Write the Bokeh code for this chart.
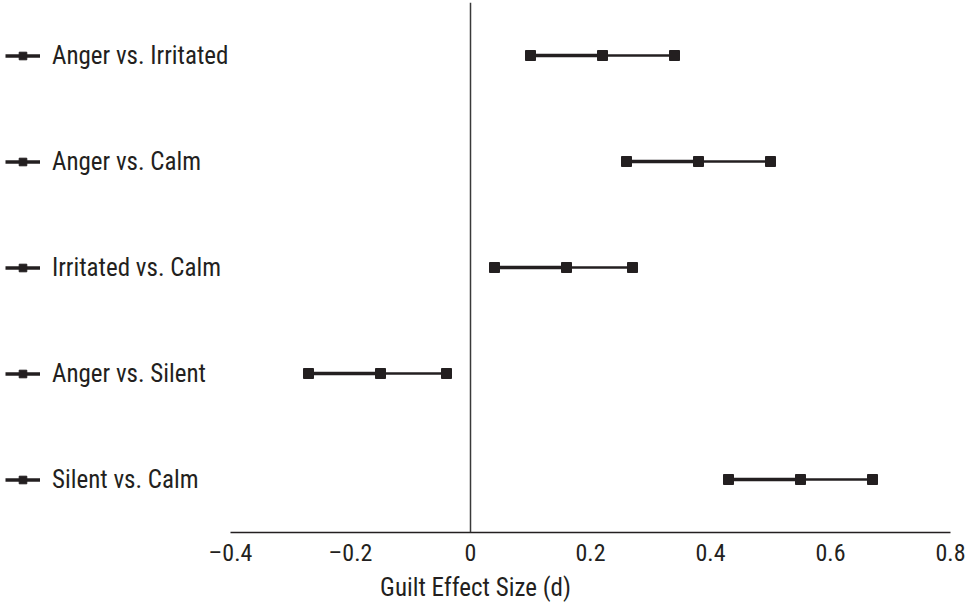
from bokeh.plotting import figure
from bokeh.models import ColumnDataSource, Span, FixedTicker, Legend, LegendItem, Range1d, FactorRange
from bokeh.embed import file_html
from bokeh.resources import INLINE

# ---- data ----
comparisons = ["Anger vs. Irritated", "Anger vs. Calm", "Irritated vs. Calm",
               "Anger vs. Silent", "Silent vs. Calm"]
effect = [0.22, 0.38, 0.16, -0.15, 0.55]
ci_low = [0.10, 0.26, 0.04, -0.27, 0.43]
ci_high = [0.34, 0.50, 0.27, -0.04, 0.67]
x_ticks = [-0.4, -0.2, 0, 0.2, 0.4, 0.6, 0.8]
x_tick_labels = ["\u20130.4", "\u20130.2", "0", "0.2", "0.4", "0.6", "0.8"]
x_title = "Guilt Effect Size (d)"

INK = "#231f20"
FONT = "Roboto Condensed"

# ---- layout (pixels) ----
FRAME_W = 950          # frame spans label column + data area
DATA_W = 720           # pixels from first to last x tick
FRAME_H = 530
LABEL_COL = FRAME_W - DATA_W
px_per_unit = DATA_W / (x_ticks[-1] - x_ticks[0])
x_start = x_ticks[0] - LABEL_COL / px_per_unit
x_end = x_ticks[-1]

src = ColumnDataSource(dict(y=comparisons, d=effect, lo=ci_low, hi=ci_high))

p = figure(frame_width=FRAME_W, frame_height=FRAME_H, output_backend="svg", toolbar_location=None,
           x_range=Range1d(x_start, x_end),
           y_range=FactorRange(factors=comparisons[::-1], range_padding=0),
           min_border_left=0, min_border_right=15, min_border_top=2, min_border_bottom=10)
p.outline_line_color = None
p.xgrid.visible = False
p.ygrid.visible = False
p.yaxis.visible = False

seg_lo = p.segment(x0="lo", y0="y", x1="d", y1="y", source=src, line_color=INK, line_width=3.5)
seg_hi = p.segment(x0="d", y0="y", x1="hi", y1="y", source=src, line_color=INK, line_width=2.6)
s_lo = p.scatter(x="lo", y="y", source=src, marker="square", size=10, fill_color=INK, line_color=INK)
s_hi = p.scatter(x="hi", y="y", source=src, marker="square", size=10, fill_color=INK, line_color=INK)
s_d = p.scatter(x="d", y="y", source=src, marker="square", size=10, fill_color=INK, line_color=INK)

p.add_layout(Span(location=0, dimension="height", line_color="#3a3a3a", line_width=1.5))

ax = p.xaxis[0]
ax.bounds = (x_ticks[0], x_ticks[-1])
ax.ticker = FixedTicker(ticks=x_ticks)
ax.major_label_overrides = dict(zip(x_ticks, x_tick_labels))
ax.axis_line_color = INK
ax.axis_line_width = 1.5
ax.major_tick_out = 0
ax.major_tick_in = 0
ax.minor_tick_out = 0
ax.minor_tick_in = 0
ax.major_label_text_font = FONT
ax.major_label_text_font_size = "24px"
ax.major_label_text_color = INK
ax.major_label_standoff = 6
ax.axis_label = x_title
ax.axis_label_text_font = FONT
ax.axis_label_text_font_style = "normal"
ax.axis_label_text_font_size = "25px"
ax.axis_label_text_color = INK
ax.axis_label_standoff = 3

ITEM_H = 32
GLYPH_H = 19
ROW_H = FRAME_H / len(comparisons)
items = [LegendItem(label=c, renderers=[seg_lo, s_d], index=i) for i, c in enumerate(comparisons)]
legend = Legend(items=items, location=(5, ROW_H / 2 - ITEM_H / 2), orientation="vertical",
                glyph_width=35, glyph_height=GLYPH_H, label_height=ITEM_H, label_standoff=12,
                spacing=int(round(ROW_H - ITEM_H)), padding=0, margin=0, border_line_color=None,
                background_fill_alpha=0,
                label_text_font=FONT, label_text_font_size="25px",
                label_text_color=INK)
p.add_layout(legend, "center")

open("out.html", "w").write(file_html(p, INLINE))
